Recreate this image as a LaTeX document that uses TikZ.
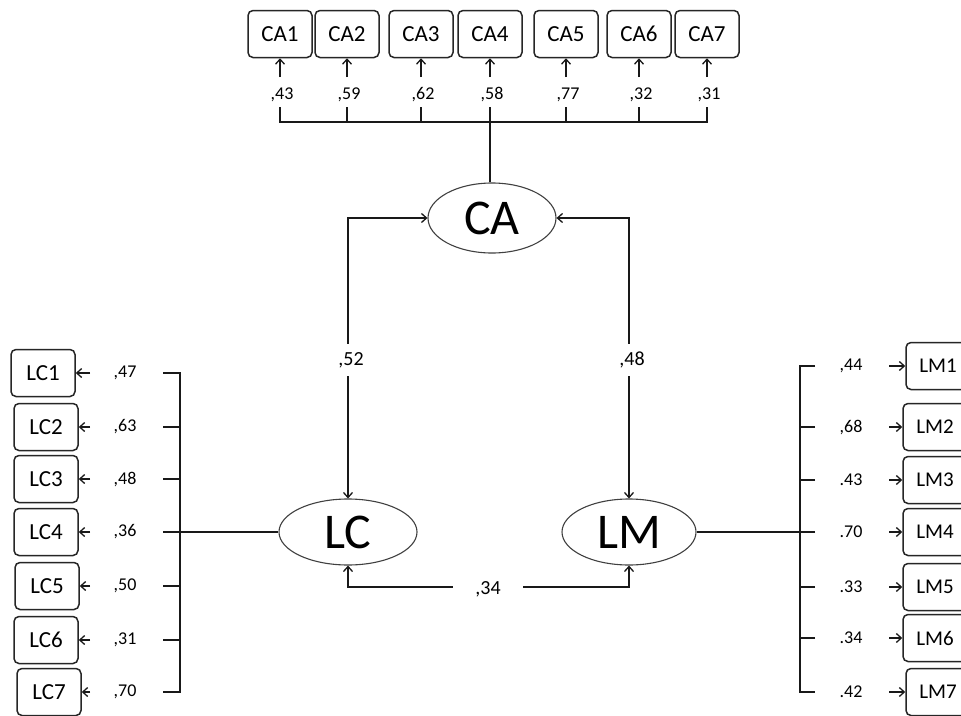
\documentclass[tikz,border=0pt]{standalone}
\usepackage{fontspec}
\setmainfont{Carlito}
\usetikzlibrary{shapes.geometric,arrows.meta}
\tikzset{
  obsbox/.style={draw=black!85, line width=1.5pt, rounded corners=5pt, minimum width=64pt, minimum height=47pt, inner sep=0pt, font=\fontsize{23}{27}\selectfont},
  latent/.style={ellipse, draw=black!75, line width=1.1pt, inner sep=0pt, font=\fontsize{50}{60}\selectfont},
  num/.style={inner sep=1pt, font=\fontsize{18}{21}\selectfont},
  midlab/.style={fill=white, inner xsep=4pt, inner ysep=8pt, font=\fontsize{20}{24}\selectfont},
  ln/.style={line width=1.3pt, draw=black!90},
  thickln/.style={line width=2.8pt, draw=black!90},
  arr/.style={line width=1.3pt, draw=black!90, -{Straight Barb[length=5pt,width=9pt]}},
  dbl/.style={line width=1.3pt, draw=black!90, {Straight Barb[length=5pt,width=9pt]}-{Straight Barb[length=5pt,width=9pt]}},
}
\begin{document}
\begin{tikzpicture}[x=1pt,y=-1pt]
\clip (0,0) rectangle (961,715);
\fill[white] (0,0) rectangle (961,715);

% latent variables
\node[latent, minimum width=128pt, minimum height=70pt] (CA) at (492,218) {CA};
\node[latent, minimum width=138pt, minimum height=66pt] (LC) at (348,532) {LC};
\node[latent, minimum width=134pt, minimum height=66pt] (LM) at (629,532) {LM};

% ---------- top: CA indicators ----------
\foreach \i/\x/\v in {1/280/{,43},2/347/{,59},3/421/{,62},4/490/{,58},5/566/{,77},6/639/{,32},7/707/{,31}}{
  \node[obsbox] (ca\i) at (\x,34) {CA\i};
  \coordinate (ta\i) at (\x,77);
  \draw[arr] (ta\i) -- (ca\i);
  \node[num] (wa\i) at (\x+2,95) {\v};
  \coordinate (ua\i) at (\x,107);
  \coordinate (va\i) at (\x,122);
}
\draw[ln] (ua1) -- (va1) -- (va7) -- (ua7);
\foreach \i in {2,...,6}{ \draw[ln] (ua\i) -- (va\i); }
\draw[thickln] (va2) -- (va4);
\draw[thickln] (va4) -- (va4 |- CA.north);

% ---------- left: LC indicators ----------
\foreach \i/\y/\bx/\v in {1/373/43/{,47},2/427/46/{,63},3/479/46/{,48},4/532/46/{,36},5/586/47/{,50},6/640/46/{,31},7/692/49/{,70}}{
  \node[obsbox] (lc\i) at (\bx,\y) {LC\i};
  \coordinate (la\i) at (90,\y);
  \draw[arr] (la\i) -- (lc\i);
  \node[num] (wl\i) at (125,\y) {\v};
  \coordinate (lu\i) at (163,\y);
  \coordinate (lv\i) at (180,\y);
}
\draw[ln] (lu1) -- (lv1) -- (lv7) -- (lu7);
\foreach \i in {2,...,6}{ \draw[ln] (lu\i) -- (lv\i); }
\draw[thickln] (lv2) -- (lv4);
\draw[ln] (lv4) -- (LC);

% ---------- right: LM indicators ----------
\foreach \i/\y/\bx/\v in {1/366/938/{,44},2/427/935/{,68},3/480/935/{.43},4/532/935/{.70},5/587/935/{.33},6/638/935/{.34},7/692/938/{.42}}{
  \node[obsbox, font=\fontsize{21}{25}\selectfont] (lm\i) at (\bx,\y) {LM\i};
  \coordinate (ma\i) at (889,\y);
  \draw[arr] (ma\i) -- (lm\i);
  \node[num] (wm\i) at (851,\y) {\v};
  \coordinate (mu\i) at (815,\y);
  \coordinate (mv\i) at (800,\y);
}
\draw[ln] (mu1) -- (mv1) -- (mv7) -- (mu7);
\foreach \i in {2,...,6}{ \draw[ln] (mu\i) -- (mv\i); }
\draw[thickln] (mv2) -- (mv6);
\draw[ln] (mv4) -- (LM);

% ---------- structural correlations ----------
\coordinate (k1) at (348,218);
\coordinate (k2) at (629,218);
\coordinate (k3) at (348,587);
\coordinate (k4) at (629,587);
\draw[dbl] (CA.west) -- (k1) -- (LC.north);
\draw[dbl] (CA.east) -- (k2) -- (LM.north);
\draw[dbl] (LC.south) -- (k3) -- (k4) -- (LM.south);
\node[midlab] (r1) at (351,360) {,52};
\node[midlab] (r2) at (632,360) {,48};
\node[midlab, inner xsep=22pt, inner ysep=2pt] (r3) at (488,589) {,34};
\end{tikzpicture}
\end{document}
